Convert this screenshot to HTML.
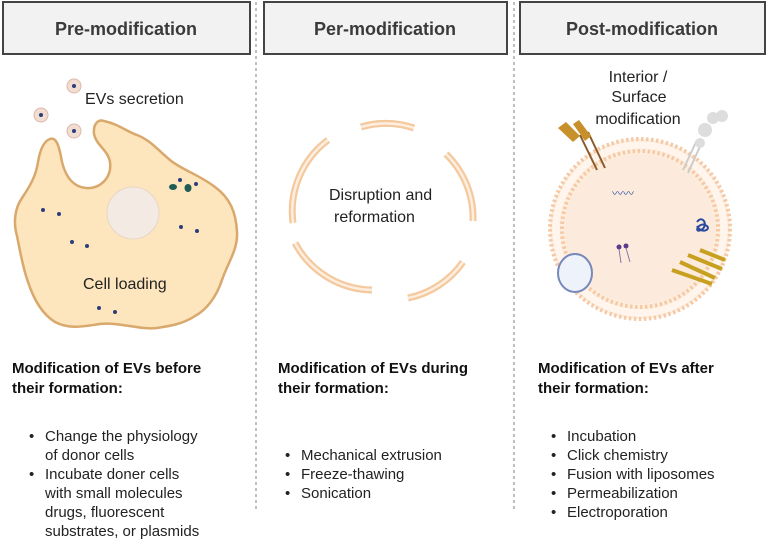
<!DOCTYPE html>
<html><head><meta charset="utf-8"><style>
html,body{margin:0;padding:0;background:#fff;}
svg{display:block;font-family:"Liberation Sans",Arial,sans-serif;}
</style></head><body>
<svg width="768" height="541" viewBox="0 0 768 541" xmlns="http://www.w3.org/2000/svg">
<g fill="#f2f2f2" stroke="#444" stroke-width="2">
<rect x="3" y="2" width="247" height="52"/>
<rect x="264" y="2" width="243" height="52"/>
<rect x="520" y="2" width="245" height="52"/>
</g>
<g font-size="18" font-weight="bold" fill="#3a3a3a" text-anchor="middle">
<text x="126" y="35">Pre-modification</text>
<text x="385" y="35">Per-modification</text>
<text x="642" y="35">Post-modification</text>
</g>
<g stroke="#aaa" stroke-width="1.5" stroke-dasharray="3,3">
<line x1="256" y1="2" x2="256" y2="512"/>
<line x1="514" y1="2" x2="514" y2="512"/>
</g>
<!-- cell -->
<path d="M50,139 C57,136 60,150 62,162 C66,178 74,187 86,188 C100,189 112,178 110,162 C108,150 96,145 94,134 C93,124 98,119 104,121 C118,124 126,131 137,135 C150,140 158,150 170,160 C182,170 198,174 215,187 C230,198 236,212 237,232 C238,250 228,262 222,280 C216,298 206,310 195,316 C183,324 170,326 157,328 C140,330 120,322 100,324 C85,326 70,330 55,322 C42,314 34,300 28,282 C22,265 20,250 17,236 C13,222 15,208 22,198 C30,186 36,176 38,162 C40,150 44,141 50,139 Z" fill="#fde5bd" stroke="#d9a86c" stroke-width="2.5"/>
<circle cx="133" cy="213" r="26" fill="#f3ebe3" stroke="#e8d6c4" stroke-width="1"/>
<g fill="#2a3f7a">
<circle cx="43" cy="210" r="2"/><circle cx="59" cy="214" r="2"/><circle cx="72" cy="242" r="2"/><circle cx="87" cy="246" r="2"/>
<circle cx="181" cy="227" r="2"/><circle cx="197" cy="231" r="2"/><circle cx="99" cy="308" r="2"/><circle cx="115" cy="312" r="2"/>
<circle cx="180" cy="180" r="2"/><circle cx="196" cy="184" r="2"/>
</g>
<g fill="#1f5c55"><ellipse cx="173" cy="187" rx="4" ry="3"/><ellipse cx="188" cy="188" rx="3.5" ry="4"/></g>
<g fill="#f2ddd2" stroke="#dcb8a8" stroke-width="1">
<circle cx="74" cy="86" r="7"/><circle cx="41" cy="115" r="7"/><circle cx="74" cy="131" r="7"/>
</g>
<g fill="#2a3f7a"><circle cx="74" cy="86" r="2"/><circle cx="41" cy="115" r="2"/><circle cx="74" cy="131" r="2"/></g>
<g font-size="16" fill="#222">
<text x="85" y="104">EVs secretion</text>
<text x="83" y="289">Cell loading</text>
</g>
<!-- broken ring -->
<g fill="none">
<g stroke="#f4c99e" stroke-width="7">
<path d="M361,127 A89,89 0 0 1 414,128"/>
<path d="M446,154 A89,89 0 0 1 473,221"/>
<path d="M463,262 A89,89 0 0 1 408,298"/>
<path d="M372,290 A89,89 0 0 1 295,243"/>
<path d="M293,223 A89,89 0 0 1 328,140"/>
</g>
<g stroke="#fdeee0" stroke-width="2.5">
<path d="M361,127 A89,89 0 0 1 414,128"/>
<path d="M446,154 A89,89 0 0 1 473,221"/>
<path d="M463,262 A89,89 0 0 1 408,298"/>
<path d="M372,290 A89,89 0 0 1 295,243"/>
<path d="M293,223 A89,89 0 0 1 328,140"/>
</g>
</g>
<g font-size="16" fill="#222">
<text x="329" y="200">Disruption and</text>
<text x="334" y="222">reformation</text>
</g>
<!-- EV -->
<circle cx="640" cy="229" r="90" fill="#fdeede"/>
<circle cx="640" cy="229" r="90" fill="none" stroke="#f6c9a6" stroke-width="4" stroke-dasharray="2.5,2.5"/>
<circle cx="640" cy="229" r="84" fill="none" stroke="#fff5ec" stroke-width="7"/>
<circle cx="640" cy="229" r="78" fill="none" stroke="#f6c9a6" stroke-width="4" stroke-dasharray="2.5,2.5"/>
<circle cx="640" cy="229" r="75" fill="#fcebdc"/>
<g stroke="#8a5a2a" stroke-width="2"><line x1="580" y1="135" x2="597" y2="170"/><line x1="588" y1="132" x2="605" y2="168"/></g>
<g fill="#c8902a"><path d="M558,128 l8,-6 l14,14 l-7,6 z"/><path d="M573,124 l6,-4 l12,16 l-6,5 z"/></g>
<g stroke="#ccc" stroke-width="2"><line x1="683" y1="170" x2="697" y2="140"/><line x1="688" y1="173" x2="702" y2="142"/></g>
<g fill="#ddd"><circle cx="705" cy="130" r="7"/><circle cx="713" cy="118" r="6"/><circle cx="722" cy="116" r="6"/><circle cx="700" cy="143" r="5"/></g>
<text x="612" y="197" font-size="11" fill="#2a4aa0">〰〰</text>
<path d="M697,222 c6,-8 12,4 4,8 c-8,4 -2,-10 6,-4 c4,4 -6,8 -10,0" fill="none" stroke="#2a4aa0" stroke-width="2"/>
<g fill="#5a3a8a"><circle cx="619" cy="247" r="2.5"/><circle cx="626" cy="246" r="2.5"/></g>
<g stroke="#8878a8" stroke-width="1"><line x1="619" y1="249" x2="621" y2="263"/><line x1="626" y1="248" x2="630" y2="262"/></g>
<ellipse cx="575" cy="273" rx="17" ry="19" fill="#eef3fb" stroke="#7788bb" stroke-width="2"/>
<g fill="none" stroke="#c8a020" stroke-width="4"><path d="M672,270 l40,14 M680,262 l35,16 M688,255 l34,14 M700,250 l25,10"/></g>
<g font-size="16" fill="#222" text-anchor="middle">
<text x="638" y="82">Interior /</text>
<text x="639" y="102">Surface</text>
<text x="638" y="124">modification</text>
</g>
<g font-size="15" font-weight="bold" fill="#111">
<text x="12" y="373">Modification of EVs before</text>
<text x="12" y="393">their formation:</text>
<text x="278" y="373">Modification of EVs during</text>
<text x="278" y="393">their formation:</text>
<text x="538" y="373">Modification of  EVs after</text>
<text x="538" y="393">their formation:</text>
</g>
<g font-size="15" fill="#222">
<text x="29" y="441">•</text><text x="45" y="441">Change the physiology</text>
<text x="45" y="460">of donor cells</text>
<text x="29" y="479">•</text><text x="45" y="479">Incubate doner cells</text>
<text x="45" y="498">with small molecules</text>
<text x="45" y="517">drugs, fluorescent</text>
<text x="45" y="536">substrates, or plasmids</text>
<text x="285" y="460">•</text><text x="301" y="460">Mechanical extrusion</text>
<text x="285" y="479">•</text><text x="301" y="479">Freeze-thawing</text>
<text x="285" y="498">•</text><text x="301" y="498">Sonication</text>
<text x="551" y="441">•</text><text x="567" y="441">Incubation</text>
<text x="551" y="460">•</text><text x="567" y="460">Click chemistry</text>
<text x="551" y="479">•</text><text x="567" y="479">Fusion with liposomes</text>
<text x="551" y="498">•</text><text x="567" y="498">Permeabilization</text>
<text x="551" y="517">•</text><text x="567" y="517">Electroporation</text>
</g>
</svg>
</body></html>
